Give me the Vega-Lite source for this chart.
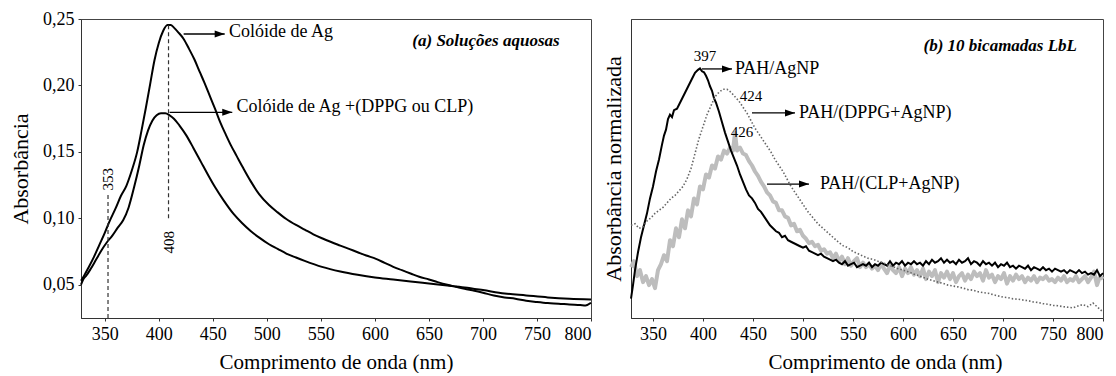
{
  "$schema": "https://vega.github.io/schema/vega-lite/v6.json",
  "padding": {"left": 9, "top": 9, "right": 0, "bottom": 0},
  "background": "white",
  "bounds": "flush",
  "spacing": 40,
  "config": {
    "font": "Liberation Serif, Times New Roman, serif",
    "view": {"stroke": "#444", "strokeWidth": 1},
    "axis": {"grid": false, "domainColor": "#333", "tickColor": "#333", "tickSize": 3, "labelFont": "Liberation Serif, Times New Roman, serif", "labelFontSize": 18, "labelColor": "#000", "titleFont": "Liberation Serif, Times New Roman, serif", "titleFontSize": 21, "titleFontWeight": "normal", "titleColor": "#000", "labelPadding": 4},
    "axisX": {"titlePadding": 8},
    "axisY": {"titlePadding": 10, "titleFontSize": 22},
    "text": {"font": "Liberation Serif, Times New Roman, serif", "fontSize": 18, "color": "#000"}
  },
  "datasets": {
    "a_curves": [
      {"s":"Ag","wl":328,"A":0.053},{"s":"Ag","wl":331,"A":0.057},{"s":"Ag","wl":335,"A":0.063},{"s":"Ag","wl":340,"A":0.071},{"s":"Ag","wl":345,"A":0.080},{"s":"Ag","wl":350,"A":0.089},{"s":"Ag","wl":354,"A":0.097},{"s":"Ag","wl":360,"A":0.1075},{"s":"Ag","wl":365,"A":0.117},{"s":"Ag","wl":370,"A":0.1245},{"s":"Ag","wl":375,"A":0.136},{"s":"Ag","wl":380,"A":0.150},{"s":"Ag","wl":384,"A":0.166},{"s":"Ag","wl":388,"A":0.183},{"s":"Ag","wl":392,"A":0.201},{"s":"Ag","wl":396,"A":0.219},{"s":"Ag","wl":400,"A":0.232},{"s":"Ag","wl":404,"A":0.241},{"s":"Ag","wl":408,"A":0.2455},{"s":"Ag","wl":411,"A":0.2455},{"s":"Ag","wl":414,"A":0.2435},{"s":"Ag","wl":418,"A":0.240},{"s":"Ag","wl":423,"A":0.235},{"s":"Ag","wl":428,"A":0.2275},{"s":"Ag","wl":433,"A":0.2195},{"s":"Ag","wl":438,"A":0.210},{"s":"Ag","wl":442,"A":0.2025},{"s":"Ag","wl":447,"A":0.1925},{"s":"Ag","wl":452,"A":0.1825},{"s":"Ag","wl":457,"A":0.172},{"s":"Ag","wl":462,"A":0.163},{"s":"Ag","wl":467,"A":0.1545},{"s":"Ag","wl":472,"A":0.147},{"s":"Ag","wl":478,"A":0.138},{"s":"Ag","wl":485,"A":0.128},{"s":"Ag","wl":493,"A":0.118},{"s":"Ag","wl":502,"A":0.110},{"s":"Ag","wl":510,"A":0.1045},{"s":"Ag","wl":518,"A":0.0995},{"s":"Ag","wl":527,"A":0.095},{"s":"Ag","wl":535,"A":0.0915},{"s":"Ag","wl":543,"A":0.088},{"s":"Ag","wl":551,"A":0.085},{"s":"Ag","wl":560,"A":0.082},{"s":"Ag","wl":568,"A":0.0795},{"s":"Ag","wl":576,"A":0.077},{"s":"Ag","wl":584,"A":0.0745},{"s":"Ag","wl":592,"A":0.072},{"s":"Ag","wl":601,"A":0.0695},{"s":"Ag","wl":609,"A":0.0665},{"s":"Ag","wl":617,"A":0.0635},{"s":"Ag","wl":625,"A":0.061},{"s":"Ag","wl":633,"A":0.0585},{"s":"Ag","wl":641,"A":0.056},{"s":"Ag","wl":650,"A":0.054},{"s":"Ag","wl":658,"A":0.052},{"s":"Ag","wl":667,"A":0.050},{"s":"Ag","wl":675,"A":0.0485},{"s":"Ag","wl":683,"A":0.047},{"s":"Ag","wl":692,"A":0.0455},{"s":"Ag","wl":700,"A":0.044},{"s":"Ag","wl":710,"A":0.042},{"s":"Ag","wl":720,"A":0.0405},{"s":"Ag","wl":730,"A":0.0395},{"s":"Ag","wl":740,"A":0.038},{"s":"Ag","wl":750,"A":0.037},{"s":"Ag","wl":760,"A":0.0362},{"s":"Ag","wl":770,"A":0.0358},{"s":"Ag","wl":780,"A":0.0352},{"s":"Ag","wl":790,"A":0.0348},{"s":"Ag","wl":795,"A":0.0345},{"s":"Ag","wl":800,"A":0.0365},
      {"s":"DPPG","wl":328,"A":0.050},{"s":"DPPG","wl":330,"A":0.054},{"s":"DPPG","wl":333,"A":0.057},{"s":"DPPG","wl":337,"A":0.062},{"s":"DPPG","wl":342,"A":0.069},{"s":"DPPG","wl":347,"A":0.076},{"s":"DPPG","wl":352,"A":0.082},{"s":"DPPG","wl":357,"A":0.087},{"s":"DPPG","wl":362,"A":0.093},{"s":"DPPG","wl":367,"A":0.0985},{"s":"DPPG","wl":372,"A":0.108},{"s":"DPPG","wl":377,"A":0.123},{"s":"DPPG","wl":382,"A":0.140},{"s":"DPPG","wl":386,"A":0.155},{"s":"DPPG","wl":390,"A":0.166},{"s":"DPPG","wl":394,"A":0.1735},{"s":"DPPG","wl":398,"A":0.1775},{"s":"DPPG","wl":402,"A":0.179},{"s":"DPPG","wl":406,"A":0.179},{"s":"DPPG","wl":410,"A":0.1775},{"s":"DPPG","wl":414,"A":0.175},{"s":"DPPG","wl":419,"A":0.170},{"s":"DPPG","wl":425,"A":0.163},{"s":"DPPG","wl":432,"A":0.153},{"s":"DPPG","wl":439,"A":0.1425},{"s":"DPPG","wl":446,"A":0.132},{"s":"DPPG","wl":452,"A":0.1235},{"s":"DPPG","wl":460,"A":0.1135},{"s":"DPPG","wl":469,"A":0.1035},{"s":"DPPG","wl":477,"A":0.0965},{"s":"DPPG","wl":485,"A":0.0905},{"s":"DPPG","wl":493,"A":0.0855},{"s":"DPPG","wl":502,"A":0.0805},{"s":"DPPG","wl":510,"A":0.077},{"s":"DPPG","wl":518,"A":0.0735},{"s":"DPPG","wl":527,"A":0.0705},{"s":"DPPG","wl":535,"A":0.068},{"s":"DPPG","wl":551,"A":0.0635},{"s":"DPPG","wl":568,"A":0.060},{"s":"DPPG","wl":584,"A":0.0575},{"s":"DPPG","wl":600,"A":0.0555},{"s":"DPPG","wl":617,"A":0.054},{"s":"DPPG","wl":633,"A":0.0525},{"s":"DPPG","wl":650,"A":0.051},{"s":"DPPG","wl":667,"A":0.0495},{"s":"DPPG","wl":683,"A":0.048},{"s":"DPPG","wl":700,"A":0.046},{"s":"DPPG","wl":720,"A":0.0435},{"s":"DPPG","wl":740,"A":0.042},{"s":"DPPG","wl":760,"A":0.0405},{"s":"DPPG","wl":780,"A":0.0395},{"s":"DPPG","wl":800,"A":0.039}
    ],
    "a_vlines": [{"wl":353,"A":0.025,"A2":0.118},{"wl":409,"A":0.100,"A2":0.2455}],
    "a_vlabels": [{"wl":353,"A":0.1295,"t":"353"},{"wl":409,"A":0.082,"t":"408"}],
    "a_arrows": [{"wl":423,"wl2":461,"A":0.2387},{"wl":410,"wl2":468,"A":0.1798}],
    "a_labels": [{"wl":465,"A":0.240,"t":"Colóide de Ag"},{"wl":472,"A":0.1836,"t":"Colóide de Ag +(DPPG ou CLP)"}],
    "a_title": [{"wl":771,"A":0.2334,"t":"(a)  Soluções aquosas"}],
    "b_agnp": [
      {"wl":328,"v":0.065},{"wl":330,"v":0.11},{"wl":332,"v":0.16},{"wl":335,"v":0.22},{"wl":338,"v":0.27},{"wl":341,"v":0.31},{"wl":344,"v":0.35},{"wl":347,"v":0.40},{"wl":350,"v":0.44},{"wl":353,"v":0.49},{"wl":356,"v":0.53},{"wl":359,"v":0.58},{"wl":361,"v":0.61},{"wl":363,"v":0.63},{"wl":365,"v":0.665},{"wl":367,"v":0.68},{"wl":369,"v":0.672},{"wl":371,"v":0.695},{"wl":374,"v":0.70},{"wl":377,"v":0.72},{"wl":380,"v":0.74},{"wl":383,"v":0.76},{"wl":386,"v":0.78},{"wl":389,"v":0.80},{"wl":392,"v":0.82},{"wl":395,"v":0.83},{"wl":397,"v":0.835},{"wl":399,"v":0.825},{"wl":401,"v":0.822},{"wl":403,"v":0.81},{"wl":405,"v":0.795},{"wl":407,"v":0.775},{"wl":409,"v":0.76},{"wl":411,"v":0.735},{"wl":413,"v":0.72},{"wl":416,"v":0.69},{"wl":419,"v":0.655},{"wl":422,"v":0.62},{"wl":425,"v":0.59},{"wl":428,"v":0.56},{"wl":431,"v":0.535},{"wl":434,"v":0.51},{"wl":437,"v":0.48},{"wl":440,"v":0.455},{"wl":443,"v":0.43},{"wl":446,"v":0.41},{"wl":449,"v":0.40},{"wl":452,"v":0.385},{"wl":455,"v":0.365},{"wl":458,"v":0.355},{"wl":461,"v":0.34},{"wl":464,"v":0.325},{"wl":467,"v":0.31},{"wl":470,"v":0.30},{"wl":473,"v":0.29},{"wl":476,"v":0.285},{"wl":479,"v":0.27},{"wl":482,"v":0.275},{"wl":485,"v":0.26},{"wl":488,"v":0.255},{"wl":491,"v":0.25},{"wl":494,"v":0.245},{"wl":497,"v":0.24},{"wl":500,"v":0.235},{"wl":503,"v":0.24},{"wl":506,"v":0.225},{"wl":509,"v":0.22},{"wl":512,"v":0.215},{"wl":515,"v":0.21},{"wl":518,"v":0.215},{"wl":521,"v":0.205},{"wl":524,"v":0.2},{"wl":527,"v":0.195},{"wl":530,"v":0.19},{"wl":533,"v":0.195},{"wl":536,"v":0.185},{"wl":539,"v":0.18},{"wl":542,"v":0.19},{"wl":545,"v":0.175},{"wl":548,"v":0.18},{"wl":551,"v":0.185},{"wl":554,"v":0.17},{"wl":557,"v":0.175},{"wl":560,"v":0.18},{"wl":563,"v":0.175},{"wl":566,"v":0.185},{"wl":569,"v":0.17},{"wl":572,"v":0.18},{"wl":575,"v":0.175},{"wl":578,"v":0.185},{"wl":581,"v":0.18},{"wl":584,"v":0.175},{"wl":587,"v":0.19},{"wl":590,"v":0.175},{"wl":593,"v":0.185},{"wl":596,"v":0.18},{"wl":599,"v":0.19},{"wl":602,"v":0.175},{"wl":605,"v":0.185},{"wl":608,"v":0.18},{"wl":611,"v":0.19},{"wl":614,"v":0.18},{"wl":617,"v":0.185},{"wl":620,"v":0.175},{"wl":623,"v":0.19},{"wl":626,"v":0.18},{"wl":629,"v":0.195},{"wl":632,"v":0.185},{"wl":635,"v":0.19},{"wl":638,"v":0.2},{"wl":641,"v":0.185},{"wl":644,"v":0.195},{"wl":647,"v":0.185},{"wl":650,"v":0.19},{"wl":653,"v":0.18},{"wl":656,"v":0.195},{"wl":659,"v":0.185},{"wl":662,"v":0.19},{"wl":665,"v":0.2},{"wl":668,"v":0.18},{"wl":671,"v":0.19},{"wl":674,"v":0.185},{"wl":677,"v":0.175},{"wl":680,"v":0.19},{"wl":683,"v":0.18},{"wl":686,"v":0.185},{"wl":689,"v":0.175},{"wl":692,"v":0.185},{"wl":695,"v":0.17},{"wl":698,"v":0.18},{"wl":701,"v":0.175},{"wl":704,"v":0.185},{"wl":707,"v":0.17},{"wl":710,"v":0.175},{"wl":713,"v":0.165},{"wl":716,"v":0.175},{"wl":719,"v":0.17},{"wl":722,"v":0.165},{"wl":725,"v":0.175},{"wl":728,"v":0.16},{"wl":731,"v":0.17},{"wl":734,"v":0.165},{"wl":737,"v":0.16},{"wl":740,"v":0.17},{"wl":743,"v":0.16},{"wl":746,"v":0.165},{"wl":749,"v":0.155},{"wl":752,"v":0.165},{"wl":755,"v":0.16},{"wl":758,"v":0.155},{"wl":761,"v":0.16},{"wl":764,"v":0.15},{"wl":767,"v":0.16},{"wl":770,"v":0.155},{"wl":773,"v":0.15},{"wl":776,"v":0.16},{"wl":779,"v":0.15},{"wl":782,"v":0.155},{"wl":785,"v":0.145},{"wl":788,"v":0.15},{"wl":791,"v":0.145},{"wl":794,"v":0.16},{"wl":797,"v":0.14},{"wl":800,"v":0.15}
    ],
    "b_dppg": [
      {"wl":328,"v":0.31},{"wl":332,"v":0.315},{"wl":336,"v":0.30},{"wl":340,"v":0.305},{"wl":344,"v":0.325},{"wl":348,"v":0.335},{"wl":352,"v":0.35},{"wl":356,"v":0.36},{"wl":360,"v":0.37},{"wl":364,"v":0.385},{"wl":368,"v":0.40},{"wl":372,"v":0.41},{"wl":376,"v":0.425},{"wl":380,"v":0.44},{"wl":384,"v":0.465},{"wl":388,"v":0.50},{"wl":392,"v":0.55},{"wl":396,"v":0.60},{"wl":400,"v":0.64},{"wl":404,"v":0.68},{"wl":408,"v":0.71},{"wl":412,"v":0.74},{"wl":416,"v":0.755},{"wl":420,"v":0.765},{"wl":424,"v":0.765},{"wl":428,"v":0.755},{"wl":432,"v":0.74},{"wl":436,"v":0.725},{"wl":440,"v":0.705},{"wl":444,"v":0.685},{"wl":448,"v":0.66},{"wl":452,"v":0.635},{"wl":456,"v":0.615},{"wl":460,"v":0.595},{"wl":464,"v":0.575},{"wl":468,"v":0.555},{"wl":472,"v":0.53},{"wl":476,"v":0.51},{"wl":480,"v":0.49},{"wl":484,"v":0.465},{"wl":488,"v":0.44},{"wl":492,"v":0.42},{"wl":496,"v":0.40},{"wl":500,"v":0.38},{"wl":505,"v":0.355},{"wl":510,"v":0.335},{"wl":515,"v":0.315},{"wl":520,"v":0.30},{"wl":525,"v":0.285},{"wl":530,"v":0.27},{"wl":535,"v":0.255},{"wl":540,"v":0.242},{"wl":545,"v":0.235},{"wl":550,"v":0.222},{"wl":555,"v":0.215},{"wl":560,"v":0.207},{"wl":565,"v":0.2},{"wl":570,"v":0.196},{"wl":575,"v":0.19},{"wl":580,"v":0.185},{"wl":585,"v":0.177},{"wl":590,"v":0.172},{"wl":595,"v":0.165},{"wl":600,"v":0.16},{"wl":605,"v":0.155},{"wl":610,"v":0.148},{"wl":615,"v":0.142},{"wl":620,"v":0.136},{"wl":625,"v":0.13},{"wl":630,"v":0.125},{"wl":635,"v":0.12},{"wl":640,"v":0.116},{"wl":645,"v":0.11},{"wl":650,"v":0.107},{"wl":655,"v":0.104},{"wl":660,"v":0.1},{"wl":665,"v":0.095},{"wl":670,"v":0.093},{"wl":675,"v":0.088},{"wl":680,"v":0.085},{"wl":685,"v":0.083},{"wl":690,"v":0.078},{"wl":695,"v":0.074},{"wl":700,"v":0.07},{"wl":705,"v":0.068},{"wl":710,"v":0.064},{"wl":715,"v":0.063},{"wl":720,"v":0.06},{"wl":725,"v":0.058},{"wl":730,"v":0.054},{"wl":735,"v":0.052},{"wl":740,"v":0.048},{"wl":745,"v":0.046},{"wl":750,"v":0.042},{"wl":755,"v":0.041},{"wl":760,"v":0.038},{"wl":765,"v":0.036},{"wl":770,"v":0.034},{"wl":775,"v":0.04},{"wl":780,"v":0.045},{"wl":785,"v":0.038},{"wl":790,"v":0.05},{"wl":795,"v":0.035},{"wl":800,"v":0.02}
    ],
    "b_clp": [
      {"wl":328,"v":0.17},{"wl":331,"v":0.19},{"wl":334,"v":0.14},{"wl":337,"v":0.16},{"wl":340,"v":0.12},{"wl":343,"v":0.14},{"wl":346,"v":0.11},{"wl":349,"v":0.13},{"wl":352,"v":0.10},{"wl":355,"v":0.16},{"wl":358,"v":0.18},{"wl":361,"v":0.21},{"wl":364,"v":0.19},{"wl":367,"v":0.26},{"wl":370,"v":0.24},{"wl":373,"v":0.30},{"wl":376,"v":0.27},{"wl":379,"v":0.33},{"wl":382,"v":0.30},{"wl":385,"v":0.36},{"wl":388,"v":0.34},{"wl":391,"v":0.40},{"wl":394,"v":0.38},{"wl":397,"v":0.44},{"wl":400,"v":0.43},{"wl":403,"v":0.48},{"wl":406,"v":0.47},{"wl":409,"v":0.51},{"wl":412,"v":0.50},{"wl":415,"v":0.54},{"wl":418,"v":0.53},{"wl":421,"v":0.56},{"wl":424,"v":0.55},{"wl":427,"v":0.57},{"wl":430,"v":0.56},{"wl":432,"v":0.62},{"wl":434,"v":0.56},{"wl":437,"v":0.57},{"wl":440,"v":0.55},{"wl":443,"v":0.545},{"wl":446,"v":0.525},{"wl":449,"v":0.51},{"wl":452,"v":0.49},{"wl":455,"v":0.475},{"wl":458,"v":0.455},{"wl":461,"v":0.44},{"wl":464,"v":0.42},{"wl":467,"v":0.41},{"wl":470,"v":0.39},{"wl":473,"v":0.385},{"wl":476,"v":0.36},{"wl":479,"v":0.36},{"wl":482,"v":0.34},{"wl":485,"v":0.335},{"wl":488,"v":0.31},{"wl":491,"v":0.315},{"wl":494,"v":0.29},{"wl":497,"v":0.295},{"wl":500,"v":0.275},{"wl":503,"v":0.265},{"wl":506,"v":0.25},{"wl":509,"v":0.255},{"wl":512,"v":0.24},{"wl":515,"v":0.245},{"wl":518,"v":0.225},{"wl":521,"v":0.23},{"wl":524,"v":0.215},{"wl":527,"v":0.22},{"wl":530,"v":0.20},{"wl":533,"v":0.215},{"wl":536,"v":0.19},{"wl":539,"v":0.205},{"wl":542,"v":0.18},{"wl":545,"v":0.20},{"wl":548,"v":0.175},{"wl":551,"v":0.19},{"wl":554,"v":0.20},{"wl":557,"v":0.17},{"wl":560,"v":0.185},{"wl":563,"v":0.17},{"wl":566,"v":0.18},{"wl":569,"v":0.165},{"wl":572,"v":0.175},{"wl":575,"v":0.16},{"wl":578,"v":0.18},{"wl":581,"v":0.165},{"wl":584,"v":0.15},{"wl":587,"v":0.175},{"wl":590,"v":0.16},{"wl":593,"v":0.15},{"wl":596,"v":0.17},{"wl":599,"v":0.14},{"wl":602,"v":0.165},{"wl":605,"v":0.15},{"wl":608,"v":0.17},{"wl":611,"v":0.145},{"wl":614,"v":0.16},{"wl":617,"v":0.14},{"wl":620,"v":0.165},{"wl":623,"v":0.13},{"wl":626,"v":0.155},{"wl":629,"v":0.14},{"wl":632,"v":0.16},{"wl":635,"v":0.12},{"wl":638,"v":0.15},{"wl":641,"v":0.135},{"wl":644,"v":0.155},{"wl":647,"v":0.13},{"wl":650,"v":0.15},{"wl":653,"v":0.12},{"wl":656,"v":0.14},{"wl":659,"v":0.15},{"wl":662,"v":0.125},{"wl":665,"v":0.145},{"wl":668,"v":0.13},{"wl":671,"v":0.155},{"wl":674,"v":0.14},{"wl":677,"v":0.15},{"wl":680,"v":0.125},{"wl":683,"v":0.16},{"wl":686,"v":0.135},{"wl":689,"v":0.145},{"wl":692,"v":0.12},{"wl":695,"v":0.14},{"wl":698,"v":0.13},{"wl":701,"v":0.15},{"wl":704,"v":0.115},{"wl":707,"v":0.14},{"wl":710,"v":0.125},{"wl":713,"v":0.145},{"wl":716,"v":0.13},{"wl":719,"v":0.14},{"wl":722,"v":0.12},{"wl":725,"v":0.135},{"wl":728,"v":0.125},{"wl":731,"v":0.14},{"wl":734,"v":0.12},{"wl":737,"v":0.135},{"wl":740,"v":0.13},{"wl":743,"v":0.14},{"wl":746,"v":0.125},{"wl":749,"v":0.13},{"wl":752,"v":0.12},{"wl":755,"v":0.135},{"wl":758,"v":0.125},{"wl":761,"v":0.14},{"wl":764,"v":0.12},{"wl":767,"v":0.13},{"wl":770,"v":0.125},{"wl":773,"v":0.14},{"wl":776,"v":0.12},{"wl":779,"v":0.13},{"wl":782,"v":0.14},{"wl":785,"v":0.12},{"wl":788,"v":0.135},{"wl":791,"v":0.155},{"wl":794,"v":0.11},{"wl":797,"v":0.14},{"wl":800,"v":0.13}
    ],
    "b_vlabels": [{"wl":402,"v":0.876,"t":"397"},{"wl":448,"v":0.742,"t":"424"},{"wl":439,"v":0.622,"t":"426"}],
    "b_arrows": [{"wl":399,"wl2":429,"v":0.833},{"wl":449,"wl2":492,"v":0.686},{"wl":464,"wl2":506,"v":0.448}],
    "b_labels": [{"wl":432,"v":0.833,"t":"PAH/AgNP"},{"wl":496,"v":0.686,"t":"PAH/(DPPG+AgNP)"},{"wl":517,"v":0.448,"t":"PAH/(CLP+AgNP)"}],
    "b_title": [{"wl":774,"v":0.91,"t":"(b)  10 bicamadas LbL"}]
  },
  "hconcat": [
    {
      "width": 510,
      "height": 299,
      "layer": [
        {
          "data": {"name": "a_curves"},
          "mark": {"type": "line", "color": "#000", "strokeWidth": 2, "interpolate": "monotone"},
          "encoding": {
            "x": {"field": "wl", "type": "quantitative", "scale": {"domain": [328, 800], "nice": false, "zero": false}, "axis": {"values": [350, 400, 450, 500, 550, 600, 650, 700, 750, 800], "title": "Comprimento de onda (nm)"}},
            "y": {"field": "A", "type": "quantitative", "scale": {"domain": [0.025, 0.25], "nice": false, "zero": false}, "axis": {"values": [0.05, 0.1, 0.15, 0.2, 0.25], "labelExpr": "replace(format(datum.value, '.2f'), '.', ',')", "title": "Absorbância"}},
            "detail": {"field": "s"}
          }
        },
        {
          "data": {"name": "a_vlines"},
          "mark": {"type": "rule", "strokeDash": [4, 3], "color": "#333", "strokeWidth": 1.2},
          "encoding": {"x": {"field": "wl", "type": "quantitative"}, "y": {"field": "A", "type": "quantitative"}, "y2": {"field": "A2"}}
        },
        {
          "data": {"name": "a_vlabels"},
          "mark": {"type": "text", "angle": 270, "fontSize": 15, "align": "center", "baseline": "middle"},
          "encoding": {"x": {"field": "wl", "type": "quantitative"}, "y": {"field": "A", "type": "quantitative"}, "text": {"field": "t"}}
        },
        {
          "data": {"name": "a_arrows"},
          "mark": {"type": "rule", "color": "#000", "strokeWidth": 1.3},
          "encoding": {"x": {"field": "wl", "type": "quantitative"}, "x2": {"field": "wl2"}, "y": {"field": "A", "type": "quantitative"}}
        },
        {
          "data": {"name": "a_arrows"},
          "mark": {"type": "point", "shape": "M0,0L-2,-0.7L-2,0.7Z", "size": 100, "filled": true, "color": "#000", "opacity": 1},
          "encoding": {"x": {"field": "wl2", "type": "quantitative"}, "y": {"field": "A", "type": "quantitative"}}
        },
        {
          "data": {"name": "a_labels"},
          "mark": {"type": "text", "align": "left", "baseline": "middle", "fontSize": 18},
          "encoding": {"x": {"field": "wl", "type": "quantitative"}, "y": {"field": "A", "type": "quantitative"}, "text": {"field": "t"}}
        },
        {
          "data": {"name": "a_title"},
          "mark": {"type": "text", "align": "right", "baseline": "middle", "fontSize": 17, "fontStyle": "italic", "fontWeight": "bold"},
          "encoding": {"x": {"field": "wl", "type": "quantitative"}, "y": {"field": "A", "type": "quantitative"}, "text": {"field": "t"}}
        }
      ]
    },
    {
      "width": 472,
      "height": 299,
      "layer": [
        {
          "data": {"name": "b_clp"},
          "mark": {"type": "line", "color": "#bdbdbd", "strokeWidth": 4, "strokeJoin": "round"},
          "encoding": {
            "x": {"field": "wl", "type": "quantitative", "scale": {"domain": [328, 800], "nice": false, "zero": false}, "axis": {"values": [350, 400, 450, 500, 550, 600, 650, 700, 750, 800], "title": "Comprimento de onda (nm)", "titleX": 254}},
            "y": {"field": "v", "type": "quantitative", "scale": {"domain": [0, 1], "nice": false, "zero": false}, "axis": {"labels": false, "ticks": false, "values": [], "title": "Absorbância  normalizada", "titlePadding": 6}}
          }
        },
        {
          "data": {"name": "b_agnp"},
          "mark": {"type": "line", "color": "#000", "strokeWidth": 2},
          "encoding": {"x": {"field": "wl", "type": "quantitative"}, "y": {"field": "v", "type": "quantitative"}}
        },
        {
          "data": {"name": "b_dppg"},
          "mark": {"type": "line", "color": "#666", "strokeWidth": 1.6, "strokeDash": [1.5, 2]},
          "encoding": {"x": {"field": "wl", "type": "quantitative"}, "y": {"field": "v", "type": "quantitative"}}
        },
        {
          "data": {"name": "b_vlabels"},
          "mark": {"type": "text", "fontSize": 15, "align": "center", "baseline": "middle"},
          "encoding": {"x": {"field": "wl", "type": "quantitative"}, "y": {"field": "v", "type": "quantitative"}, "text": {"field": "t"}}
        },
        {
          "data": {"name": "b_arrows"},
          "mark": {"type": "rule", "color": "#000", "strokeWidth": 1.3},
          "encoding": {"x": {"field": "wl", "type": "quantitative"}, "x2": {"field": "wl2"}, "y": {"field": "v", "type": "quantitative"}}
        },
        {
          "data": {"name": "b_arrows"},
          "mark": {"type": "point", "shape": "M0,0L-2,-0.7L-2,0.7Z", "size": 100, "filled": true, "color": "#000", "opacity": 1},
          "encoding": {"x": {"field": "wl2", "type": "quantitative"}, "y": {"field": "v", "type": "quantitative"}}
        },
        {
          "data": {"name": "b_labels"},
          "mark": {"type": "text", "align": "left", "baseline": "middle", "fontSize": 18},
          "encoding": {"x": {"field": "wl", "type": "quantitative"}, "y": {"field": "v", "type": "quantitative"}, "text": {"field": "t"}}
        },
        {
          "data": {"name": "b_title"},
          "mark": {"type": "text", "align": "right", "baseline": "middle", "fontSize": 17, "fontStyle": "italic", "fontWeight": "bold"},
          "encoding": {"x": {"field": "wl", "type": "quantitative"}, "y": {"field": "v", "type": "quantitative"}, "text": {"field": "t"}}
        }
      ]
    }
  ]
}
